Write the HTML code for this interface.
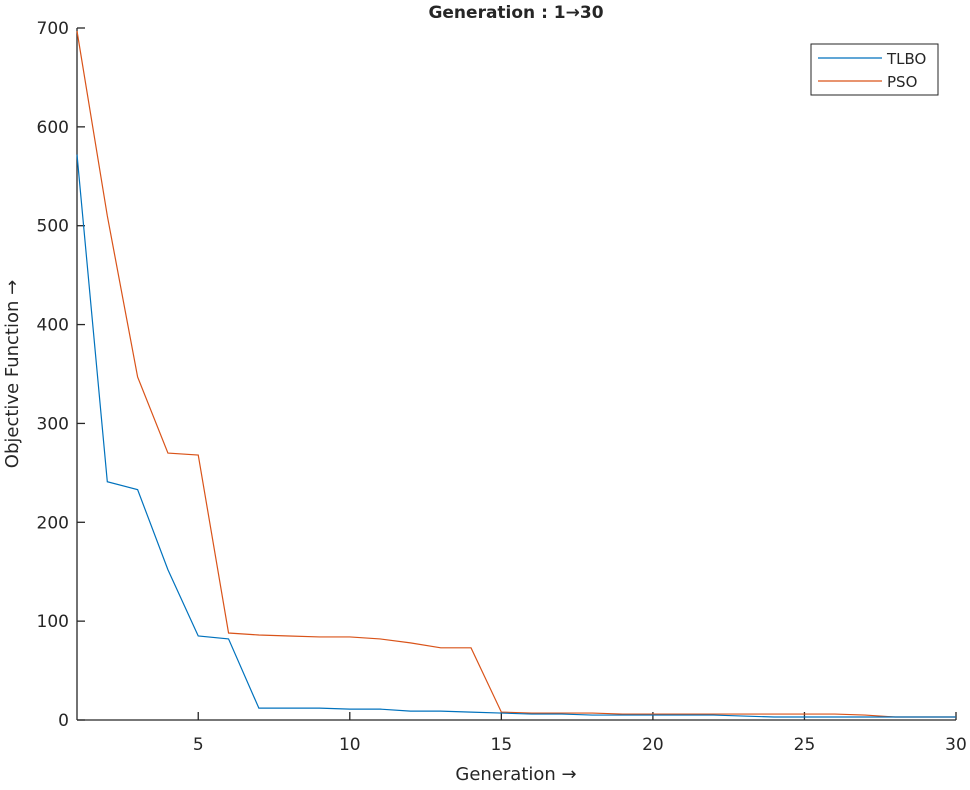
<!DOCTYPE html>
<html><head><meta charset="utf-8"><style>
body{margin:0;background:#fff}
text{font-family:"DejaVu Sans","Liberation Sans",sans-serif;fill:#262626}
</style></head><body>
<svg id="c" width="970" height="785"></svg>
<script>
const generations=[1,2,3,4,5,6,7,8,9,10,11,12,13,14,15,16,17,18,19,20,21,22,23,24,25,26,27,28,29,30];
const tlbo=[572,241,233,152,85,82,12,12,12,11,11,9,9,8,7,6,6,5,5,5,5,5,4,3,3,3,3,3,3,3];
const pso=[697,510,347,270,268,88,86,85,84,84,82,78,73,73,8,7,7,7,6,6,6,6,6,6,6,6,5,3,3,3];
const xTicks=[5,10,15,20,25,30];
const yTicks=[0,100,200,300,400,500,600,700];
const X0=77,X1=956,Y0=720,Y1=28;
const xs=v=>X0+(v-1)/29*(X1-X0);
const ys=v=>Y0-v/700*(Y0-Y1);
const NS="http://www.w3.org/2000/svg";
const svg=document.getElementById('c');
function mk(t,a,p){const e=document.createElementNS(NS,t);for(const k in a)e.setAttribute(k,a[k]);(p||svg).appendChild(e);return e;}
let e;
e=mk('line',{x1:X0,y1:Y0,x2:X1,y2:Y0,stroke:'#262626','stroke-width':1.3});


e=mk('line',{x1:X0,y1:Y0,x2:X0,y2:Y1,stroke:'#262626','stroke-width':1.3});


xTicks.forEach(v=>{
  e=mk('line',{x1:xs(v),y1:Y0,x2:xs(v),y2:Y0-8,stroke:'#262626','stroke-width':1.3});
  
  
  e=mk('text',{x:xs(v),y:Y0+30,'text-anchor':'middle','font-size':17});e.textContent=v;
  
  
});
yTicks.forEach(v=>{
  e=mk('line',{x1:X0,y1:ys(v),x2:X0+8,y2:ys(v),stroke:'#262626','stroke-width':1.3});
  
  
  e=mk('text',{x:X0-8,y:ys(v)+6,'text-anchor':'end','font-size':17});e.textContent=v;
  
  
});
function series(d,col,name){
  const p=mk('polyline',{points:d.map((v,i)=>xs(generations[i])+','+ys(v)).join(' '),fill:'none',stroke:col,'stroke-width':1.2});
  
  
}
series(pso,'#d95319','pso-line');
series(tlbo,'#0072bd','tlbo-line');
e=mk('text',{x:516,y:18,'text-anchor':'middle','font-size':17,'font-weight':'bold'});e.textContent='Generation : 1\u219230';


e=mk('text',{x:516,y:780,'text-anchor':'middle','font-size':18});e.textContent='Generation \u2192';


e=mk('text',{x:0,y:0,'text-anchor':'middle','font-size':18,transform:'translate(18,374) rotate(-90)'});e.textContent='Objective Function \u2192';


const lg=mk('g',{});


mk('rect',{x:811,y:44,width:127,height:51,fill:'#fff',stroke:'#262626','stroke-width':1},lg);
e=mk('line',{x1:818,y1:58,x2:882,y2:58,stroke:'#0072bd','stroke-width':1.2},lg);


e=mk('text',{x:887,y:64,'font-size':15},lg);e.textContent='TLBO';
e=mk('line',{x1:818,y1:81,x2:882,y2:81,stroke:'#d95319','stroke-width':1.2},lg);


e=mk('text',{x:887,y:87,'font-size':15},lg);e.textContent='PSO';
</script>
</body></html>
